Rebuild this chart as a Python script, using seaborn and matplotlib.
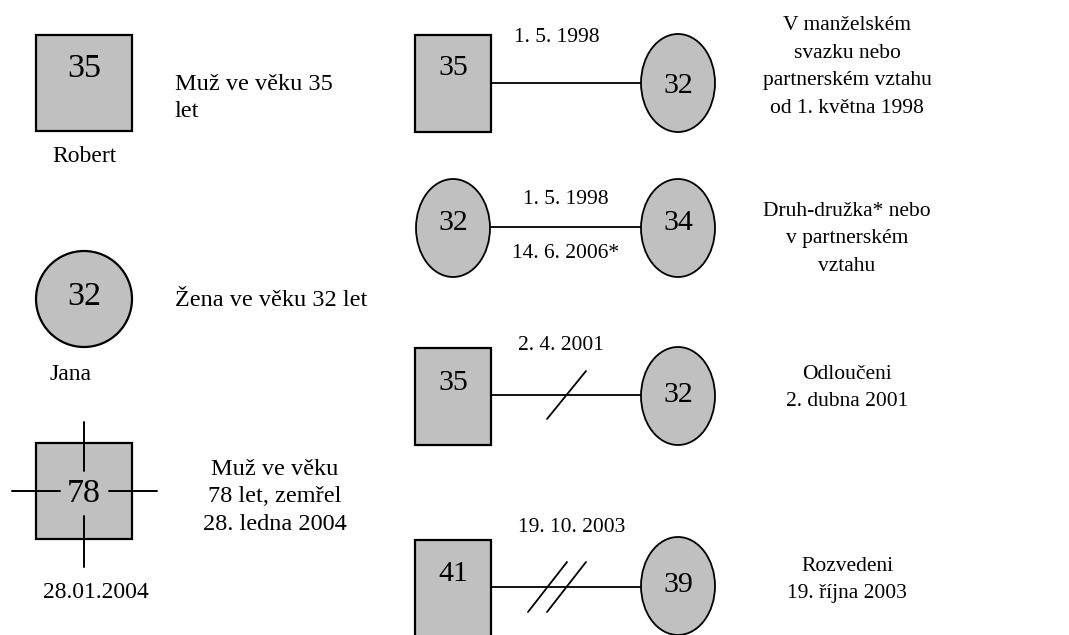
import matplotlib
matplotlib.use("Agg")
import matplotlib.pyplot as plt
from matplotlib.patches import Rectangle, Ellipse
import seaborn as sns
import pandas as pd

sns.set_theme(style="white")
plt.rcParams['font.family'] = ['Liberation Serif', 'DejaVu Serif']
plt.rcParams['text.color'] = 'black'

# ---------------- data ----------------
single_ages = [35, 32, 78]
single_shapes = ["square", "circle", "square_dead"]
single_names = ["Robert", "Jana", "28.01.2004"]
single_desc = ["Muž ve věku 35\nlet", "Žena ve věku 32 let",
               "Muž ve věku\n78 let, zemřel\n28. ledna 2004"]

pair_left_ages = [35, 32, 35, 41]
pair_left_shapes = ["square", "circle", "square", "square"]
pair_right_ages = [32, 34, 32, 39]
pair_date_top = ["1. 5. 1998", "1. 5. 1998", "2. 4. 2001", "19. 10. 2003"]
pair_date_bottom = ["", "14. 6. 2006*", "", ""]
pair_slashes = [0, 0, 1, 2]
pair_desc = ["V manželském\nsvazku nebo\npartnerském vztahu\nod 1. května 1998",
             "Druh-družka* nebo\nv partnerském\nvztahu",
             "Odloučeni\n2. dubna 2001",
             "Rozvedeni\n19. října 2003"]

# ---------------- layout (pixel coordinates) ----------------
W, H = 1069, 635
fig = plt.figure(figsize=(W / 100, H / 100), dpi=100)
ax = fig.add_axes([0, 0, 1, 1])
ax.set_xlim(0, W)
ax.set_ylim(H, 0)
ax.axis("off")

FILL = "#c0c0c0"
EDGE = "black"
DY = 3  # visual centring offset for digits

# single symbols
s_cx = 84
s_cy = [83, 299, 491]
s_age_y = [66, 294, 491]
s_name_xy = [(84, 156), (71, 374), (96, 593)]
s_desc_xy = [(175, 98, "left"), (175, 301, "left"), (275, 497, "center")]
size = 96

for i, shape in enumerate(single_shapes):
    cy = s_cy[i]
    if shape.startswith("square"):
        ax.add_patch(Rectangle((s_cx - size / 2, cy - size / 2), size, size,
                               facecolor=FILL, edgecolor=EDGE, lw=1.6, zorder=2))
    else:
        ax.add_patch(Ellipse((s_cx, cy), size, size,
                             facecolor=FILL, edgecolor=EDGE, lw=1.6, zorder=2))
    if shape == "square_dead":
        ax.plot([s_cx, s_cx], [cy - 69, cy - 20], color=EDGE, lw=1.4, zorder=3)
        ax.plot([s_cx, s_cx], [cy + 25, cy + 76], color=EDGE, lw=1.4, zorder=3)
        ax.plot([s_cx - 72, s_cx - 24], [cy, cy], color=EDGE, lw=1.4, zorder=3)
        ax.plot([s_cx + 25, s_cx + 73], [cy, cy], color=EDGE, lw=1.4, zorder=3)
    ax.text(s_cx, s_age_y[i] + DY, str(single_ages[i]), ha="center", va="center",
            fontsize=24.5, zorder=4)
    nx, ny = s_name_xy[i]
    ax.text(nx, ny, single_names[i], ha="center", va="center", fontsize=17)
    dx, dy, al = s_desc_xy[i]
    ax.text(dx, dy, single_desc[i], ha=al, va="center", fontsize=17.5,
            multialignment=al, linespacing=1.4)

# couples
lx, rx = 453, 678
sq_w, sq_h = 76, 97
el_w, el_h = 74, 98
p_line_y = [83, 227, 395, 587]
p_left_cy = [83, 228, 396, 588]
p_left_age_y = [65, 220, 380, 571]
p_right_cy = [83, 228, 396, 586]
p_right_age_y = [83, 220, 392, 582]
p_top_xy = [(557, 37), (566, 200), (561, 346), (572, 528)]
p_bot_xy = [None, (566, 253), None, None]
p_desc_y = [67, 239, 388, 580]
desc_x = 847

for i in range(4):
    y = p_line_y[i]
    seg = pd.DataFrame({"x": [lx + sq_w / 2, rx - el_w / 2], "y": [y, y]})
    sns.lineplot(data=seg, x="x", y="y", color=EDGE, lw=1.3, ax=ax,
                 estimator=None, sort=False, zorder=1)
    if pair_left_shapes[i] == "square":
        ax.add_patch(Rectangle((lx - sq_w / 2, p_left_cy[i] - sq_h / 2), sq_w, sq_h,
                               facecolor=FILL, edgecolor=EDGE, lw=1.6, zorder=2))
    else:
        ax.add_patch(Ellipse((lx, p_left_cy[i]), el_w, el_h,
                             facecolor=FILL, edgecolor=EDGE, lw=1.3, zorder=2))
    ax.add_patch(Ellipse((rx, p_right_cy[i]), el_w, el_h,
                         facecolor=FILL, edgecolor=EDGE, lw=1.3, zorder=2))
    ax.text(lx, p_left_age_y[i] + DY, str(pair_left_ages[i]), ha="center", va="center",
            fontsize=21.5, zorder=4)
    ax.text(rx, p_right_age_y[i] + DY, str(pair_right_ages[i]), ha="center", va="center",
            fontsize=21.5, zorder=4)
    tx, ty = p_top_xy[i]
    ax.text(tx, ty, pair_date_top[i], ha="center", va="center", fontsize=15.5)
    if p_bot_xy[i] is not None:
        bx, by = p_bot_xy[i]
        ax.text(bx, by, pair_date_bottom[i], ha="center", va="center", fontsize=15.5)
    # slashes
    n = pair_slashes[i]
    if n == 1:
        ax.plot([547, 586], [y + 24, y - 24], color=EDGE, lw=1.3, zorder=3)
    elif n == 2:
        for off in (0, 19):
            ax.plot([528 + off, 567 + off], [y + 25, y - 25], color=EDGE, lw=1.3, zorder=3)
    ax.text(desc_x, p_desc_y[i], pair_desc[i], ha="center", va="center",
            fontsize=15.5, multialignment="center", linespacing=1.6)

legend = ax.get_legend()
if legend is not None:
    legend.remove()

fig.savefig("out.png", dpi=100)
